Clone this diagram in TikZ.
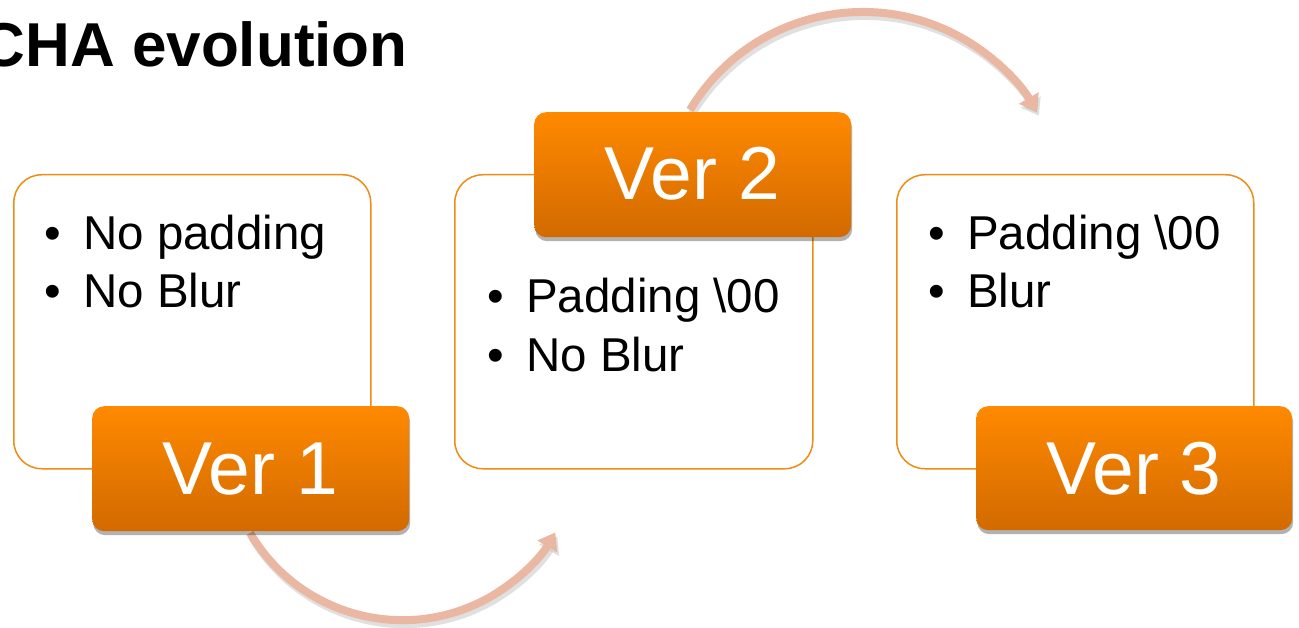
\documentclass[tikz,border=0pt]{standalone}
\usepackage{fontspec}
\setmainfont{Liberation Sans}
\usetikzlibrary{arrows.meta,shadows}
\definecolor{boxline}{RGB}{238,140,20}
\definecolor{orangetop}{RGB}{255,137,0}
\definecolor{orangebot}{RGB}{210,106,0}
\definecolor{arrowcol}{RGB}{234,184,162}
\tikzset{
  whitebox/.style={draw=boxline, line width=1.5pt, fill=white, rounded corners=28pt,
    inner sep=0pt, anchor=north west},
  verbox/.style={top color=orangetop, bottom color=orangebot, draw=none, rounded corners=12pt,
    inner sep=0pt, anchor=north west, minimum width=317pt, minimum height=125pt,
    drop shadow={shadow xshift=1pt, shadow yshift=-4pt, opacity=0.3, fill=black}},
  vertext/.style={font=\fontsize{75}{80}\selectfont, text=white, anchor=base, inner sep=0pt},
  bul/.style={font=\fontsize{47.5}{58}\selectfont, anchor=base, inner sep=0pt},
  btext/.style={font=\fontsize{47.5}{58}\selectfont, anchor=base west, inner sep=0pt},
  flow/.style={draw=arrowcol, line width=8pt, -{Triangle[width=22pt,length=16pt]}},
  flowshadow/.style={draw=black, opacity=0.12, line width=8pt, -{Triangle[width=22pt,length=16pt]}}
}
\begin{document}
\begin{tikzpicture}[x=1pt,y=-1pt]
\useasboundingbox (0,0) rectangle (1299,628);
% title
\node[font=\fontsize{62}{70}\selectfont\bfseries, anchor=base east, inner sep=0pt] (title) at (408,67) {CHA evolution};
% arrows
\coordinate (a1s) at (250,533);
\coordinate (a2s) at (690,110);
\draw[flowshadow] ([shift={(2,4)}]a1s) arc[start angle=149.5, end angle=30.3, radius=177];
\draw[flow] (a1s) arc[start angle=149.5, end angle=30.3, radius=177];
\draw[flowshadow] ([shift={(2,4)}]a2s) arc[start angle=210.9, end angle=329.7, radius=201.5];
\draw[flow] (a2s) arc[start angle=210.9, end angle=329.7, radius=201.5];
% box 1
\node[whitebox, minimum width=357pt, minimum height=294pt] (b1) at (13,174) {};
\node[verbox] (v1) at (92,406) {};
\node[vertext] (v1t) at (250.5,494) {Ver 1};
\node[bul] (b1d1) at (53,250) {•};
\node[btext] (b1t1) at (83,250) {No padding};
\node[bul] (b1d2) at (53,308) {•};
\node[btext] (b1t2) at (83,308) {No Blur};
% box 2
\node[whitebox, minimum width=358pt, minimum height=294pt] (b2) at (454,174) {};
\node[verbox] (v2) at (534,112) {};
\node[vertext] (v2t) at (692.5,200) {Ver 2};
\node[bul] (b2d1) at (496,313) {•};
\node[btext] (b2t1) at (526,313) {Padding \textbackslash 00};
\node[bul] (b2d2) at (496,371) {•};
\node[btext] (b2t2) at (526,371) {No Blur};
% box 3
\node[whitebox, minimum width=357pt, minimum height=294pt] (b3) at (896,174) {};
\node[verbox, minimum width=316pt, minimum height=124pt] (v3) at (976,406) {};
\node[vertext] (v3t) at (1134,494) {Ver 3};
\node[bul] (b3d1) at (937,250) {•};
\node[btext] (b3t1) at (967,250) {Padding \textbackslash 00};
\node[bul] (b3d2) at (937,308) {•};
\node[btext] (b3t2) at (967,308) {Blur};
\end{tikzpicture}
\end{document}
